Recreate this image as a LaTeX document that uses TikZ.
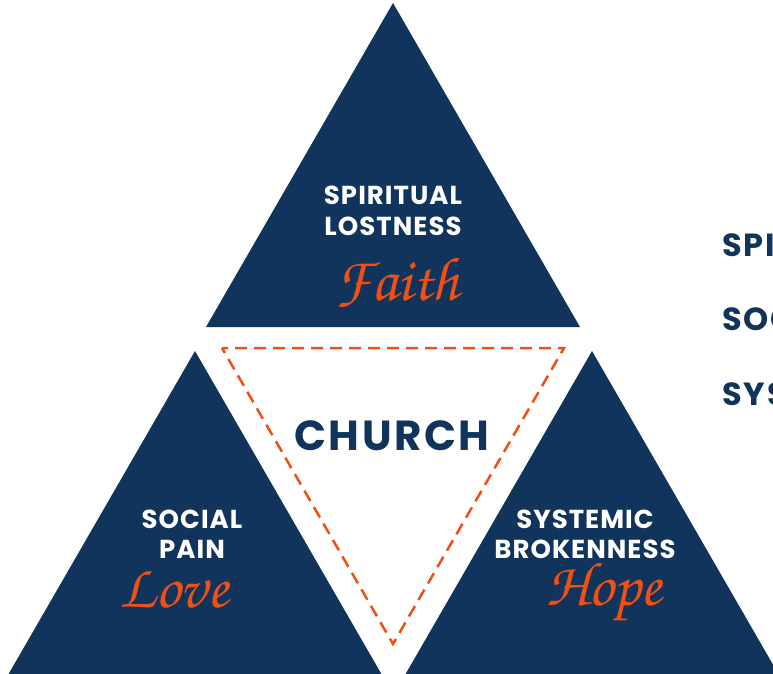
\documentclass[tikz,border=0pt]{standalone}
\usepackage{fontspec}
\newfontfamily\pop{Poppins}[LetterSpace=6.0]
\newfontfamily\popl{Poppins}[LetterSpace=4.0]
\definecolor{navy}{RGB}{16,52,92}
\definecolor{accent}{RGB}{240,80,20}
\tikzset{
  tri/.style={fill=navy, draw=none},
  lbl/.style={text=white, font=\popl\bfseries\fontsize{26}{30}\selectfont, inner sep=0pt, anchor=base},
  scr/.style={text=accent, font=\fontencoding{OT1}\fontfamily{pzc}\fontseries{mb}\fontshape{it}\fontsize{62}{62}\selectfont, inner sep=0pt, anchor=base west},
  side/.style={text=navy, font=\pop\bfseries\fontsize{32}{36}\selectfont, inner sep=0pt, anchor=base west},
  church/.style={text=navy, font=\pop\bfseries\fontsize{42}{46}\selectfont, inner sep=0pt, anchor=base},
  dash tri/.style={draw=accent, line width=2.5pt, dash pattern=on 12pt off 7pt, dash phase=6pt, line join=miter},
}
\begin{document}
\begin{tikzpicture}[x=1pt,y=-1pt]
\useasboundingbox (0,0) rectangle (773,674);
\clip (0,0) rectangle (773,674);
\fill[white] (0,0) rectangle (773,674);
% triangles
\coordinate (tA) at (393,3);
\coordinate (tL) at (206,327);
\coordinate (tR) at (580,327);
\coordinate (lA) at (195,351);
\coordinate (lL) at (8,675);
\coordinate (lR) at (382,675);
\coordinate (rA) at (592,351);
\coordinate (rL) at (405,675);
\coordinate (rR) at (779,675);
\fill[tri] (tA) -- (tL) -- (tR) -- cycle;
\fill[tri] (lA) -- (lL) -- (lR) -- cycle;
\fill[tri] (rA) -- (rL) -- (rR) -- cycle;
% dashed church triangle
\coordinate (cL) at (222,348);
\coordinate (cR) at (564,348);
\coordinate (cB) at (393,644);
\draw[dash tri] (cL) -- (cR) -- (cB) -- cycle;
% labels
\node[lbl] (sp1) at (393,204) {SPIRITUAL};
\node[lbl] (sp2) at (393,235) {LOSTNESS};
\node[scr] (faith) at (335,300) {Faith};
\node[lbl] (so1) at (192,528) {SOCIAL};
\node[lbl] (so2) at (192,558) {PAIN};
\node[scr] (love) at (119,607) {Love};
\node[lbl] (sy1) at (585,528) {SYSTEMIC};
\node[lbl] (sy2) at (585,558) {BROKENNESS};
\node[scr] (hope) at (546,605) {Hope};
\node[church] (church) at (392,450) {CHURCH};
% right-hand list (cut by the page edge)
\node[side] (r1) at (722,256) {SPI};
\node[side] (r2) at (722,330) {SOC};
\node[side] (r3) at (722,405) {SYS};
\end{tikzpicture}
\end{document}
